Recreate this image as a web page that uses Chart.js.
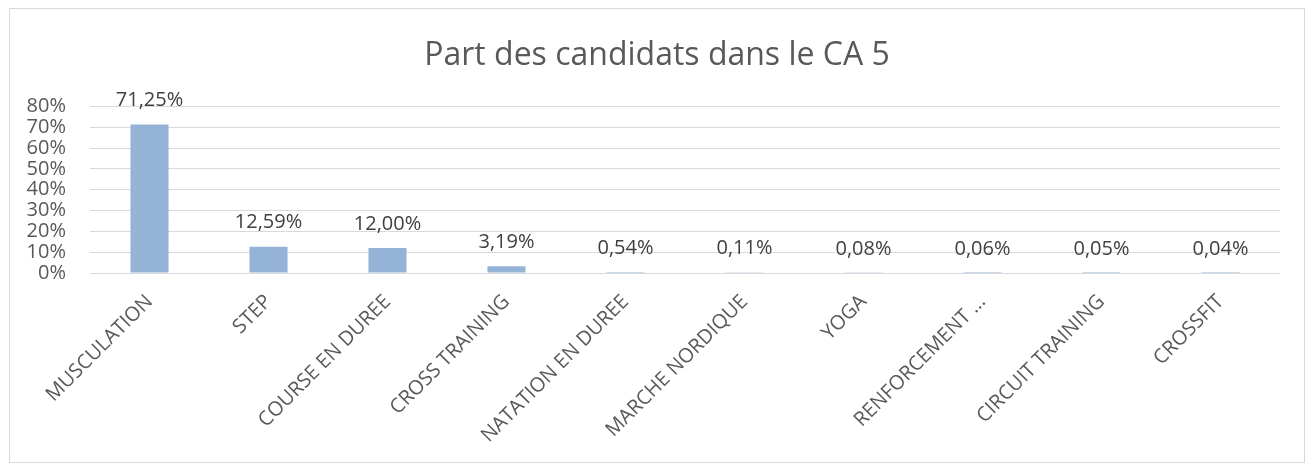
<!DOCTYPE html>
<html><head><meta charset="utf-8">
<script src="https://cdn.jsdelivr.net/npm/chart.js@4/dist/chart.umd.min.js"></script>
<style>
html,body{margin:0;padding:0;background:#fff;}
#frame{position:absolute;left:9px;top:8px;width:1294px;height:453px;border:1px solid #d9d9d9;}
canvas{display:block;}
</style></head><body>
<div id="frame"><canvas id="c" width="1294" height="453"></canvas></div>
<script>
const categories = ["MUSCULATION","STEP","COURSE EN DUREE","CROSS TRAINING","NATATION EN DUREE","MARCHE NORDIQUE","YOGA","RENFORCEMENT ...","CIRCUIT TRAINING","CROSSFIT"];
const values = [71.25, 12.59, 12.00, 3.19, 0.54, 0.11, 0.08, 0.06, 0.05, 0.04];
const valueLabels = ["71,25%","12,59%","12,00%","3,19%","0,54%","0,11%","0,08%","0,06%","0,05%","0,04%"];
const yTicks = [0,10,20,30,40,50,60,70,80];
const FONT = "'Open Sans', sans-serif";

const labelPlugin = {
  id: 'valLabels',
  afterDatasetsDraw(chart) {
    const ctx = chart.ctx;
    const meta = chart.getDatasetMeta(0);
    ctx.save();
    ctx.font = "20px " + FONT;
    ctx.fillStyle = "#404040";
    ctx.textAlign = "center";
    ctx.textBaseline = "middle";
    meta.data.forEach((bar, i) => {
      ctx.fillText(valueLabels[i], bar.x, bar.y - 24);
    });
    ctx.restore();
  }
};

new Chart(document.getElementById('c'), {
  type: 'bar',
  data: {
    labels: categories,
    datasets: [{
      data: values,
      backgroundColor: '#95b3d7',
      barPercentage: 0.32,
      categoryPercentage: 1.0
    }]
  },
  options: {
    responsive: false,
    animation: false,
    layout: { padding: 0 },
    plugins: {
      legend: { display: false },
      tooltip: { enabled: false },
      title: {
        display: true,
        text: 'Part des candidats dans le CA 5',
        color: '#595959',
        font: { family: FONT, size: 32, weight: 'normal', lineHeight: 1.2 },
        padding: { top: 28, bottom: 31 }
      }
    },
    scales: {
      x: {
        grid: { display: false, drawTicks: false },
        border: { display: false },
        afterFit(scale) { scale.height = 189; },
        ticks: {
          color: '#595959',
          font: { family: FONT, size: 20 },
          maxRotation: 45, minRotation: 45,
          autoSkip: false,
          padding: 17
        }
      },
      y: {
        min: 0, max: 80,
        afterBuildTicks(axis) { axis.ticks = yTicks.map(v => ({ value: v })); },
        afterFit(scale) { scale.width = 80; },
        grid: { color: '#d9d9d9', lineWidth: 1, drawTicks: false },
        border: { display: false },
        ticks: {
          color: '#595959',
          font: { family: FONT, size: 20 },
          padding: 24,
          autoSkip: false,
          callback: v => v + '%'
        }
      },
      yRight: {
        position: 'right',
        min: 0, max: 80,
        afterFit(scale) { scale.width = 24; },
        grid: { display: false, drawTicks: false },
        border: { display: false },
        ticks: { display: false }
      }
    }
  },
  plugins: [labelPlugin]
});
</script>
</body></html>
